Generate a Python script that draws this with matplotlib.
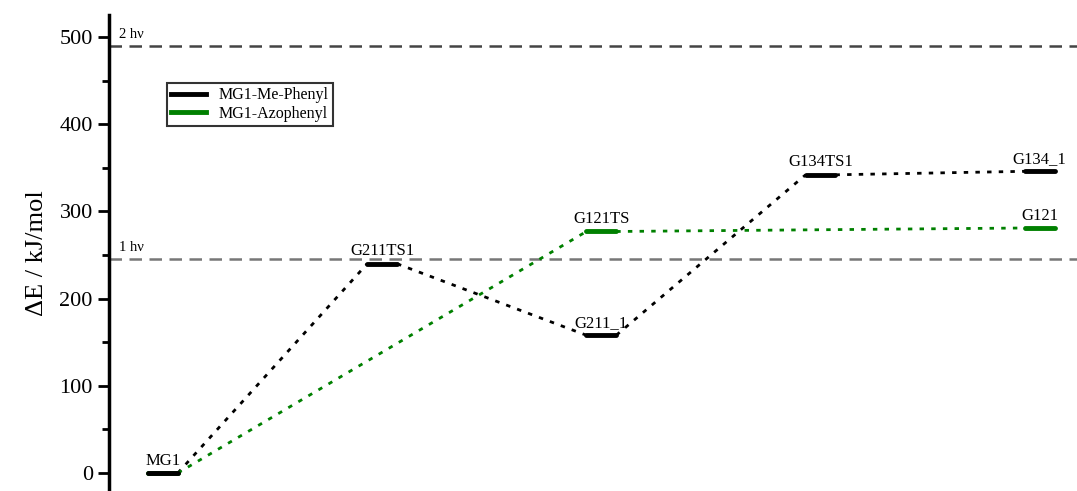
import matplotlib.pyplot as plt

plt.rcParams['font.family'] = ['Liberation Serif', 'DejaVu Serif']

# state positions and energies (kJ/mol)
phenyl_states = ['MG1', 'G211TS1', 'G211_1', 'G134TS1', 'G134_1']
phenyl_x = [1, 2, 3, 4, 5]
phenyl_e = [0, 240, 158, 342, 346]

azo_states = ['MG1', 'G121TS', 'G121']
azo_x = [1, 3, 5]
azo_e = [0, 277, 281]

photon_labels = ['1 h\u03bd', '2 h\u03bd']
photon_e = [245, 490]

half = 0.068

fig = plt.figure(figsize=(10.77, 4.91), dpi=100)
ax = fig.add_axes([0.101, 0.0, 0.899, 0.969])


def draw_path(xs, es, color, names, label, z):
    for i in range(len(xs) - 1):
        ax.plot([xs[i] + half, xs[i + 1] - half], [es[i], es[i + 1]],
                color=color, lw=2, ls=(0, (1.6, 2.6)), zorder=2)
    for x, e, n in zip(xs, es, names):
        ax.plot([x - half, x + half], [e, e], color=color, lw=3.5,
                solid_capstyle='round', zorder=z)
        if n != 'MG1' or color == 'black':
            ax.text(x, e + 5, n, ha='center', va='bottom', fontsize=12)
    ax.plot([], [], color=color, lw=3.5, label=label)


draw_path(phenyl_x, phenyl_e, 'black', phenyl_states, 'MG1-Me-Phenyl', 4)
draw_path(azo_x, azo_e, 'green', azo_states, 'MG1-Azophenyl', 3)

for lab, e, c in zip(photon_labels, photon_e, ['#777777', '#444444']):
    ax.axhline(e, color=c, lw=1.8, ls=(0, (5, 3)), zorder=1)
    ax.text(0.8, e + 6, lab, fontsize=10.5, ha='left', va='bottom')

ax.set_xlim(0.753, 5.17)
ax.set_ylim(-20.6, 525)
ax.set_yticks([0, 100, 200, 300, 400, 500])
ax.set_yticks(range(50, 500, 100), minor=True)
ax.tick_params(axis='y', which='major', length=8, width=2, labelsize=16)
ax.tick_params(axis='y', which='minor', length=5, width=2)
ax.set_xticks([])
for s in ['top', 'right', 'bottom']:
    ax.spines[s].set_visible(False)
ax.spines['left'].set_linewidth(2.5)
ax.set_ylabel('\u0394E / kJ/mol', fontsize=19, labelpad=8)

leg = ax.legend(loc='upper left', bbox_to_anchor=(0.052, 0.874), fontsize=11.5,
                frameon=True, fancybox=False, edgecolor='black',
                handlelength=2.2, borderpad=0.25, labelspacing=0.15)
leg.get_frame().set_linewidth(1.5)

fig.savefig('out.png', dpi=100)
